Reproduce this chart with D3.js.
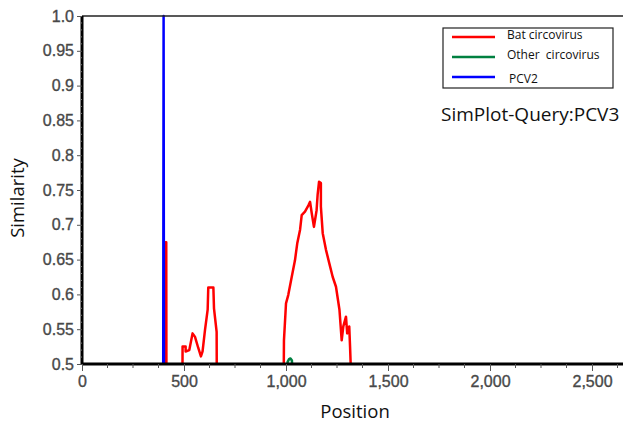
<!DOCTYPE html>
<html>
<head>
<meta charset="utf-8">
<script src="https://cdn.jsdelivr.net/npm/d3@7"></script>
<style>
    body { margin: 0; background: #fff; }
</style>
</head>
<body>
<div class="viz"></div>
<script>
const w = 623;
const h = 427;

// [position, similarity]; values under 0.5 fall below the frame
const batCircovirus = [
    [380, 0.45], [409, 0.45], [410, 0.675], [413, 0.675], [414, 0.45],
    [492, 0.45], [493, 0.525], [508, 0.525], [508, 0.518], [526, 0.520],
    [542, 0.544], [554, 0.539], [570, 0.523], [583, 0.511], [591, 0.518],
    [603, 0.549], [616, 0.578], [619, 0.610], [644, 0.610], [647, 0.580],
    [660, 0.546], [661, 0.45],
    [988, 0.45], [990, 0.534], [1000, 0.587], [1011, 0.599], [1028, 0.625],
    [1044, 0.649], [1055, 0.673], [1069, 0.693], [1077, 0.714], [1093, 0.719],
    [1110, 0.728], [1118, 0.733], [1126, 0.717], [1137, 0.697], [1150, 0.721],
    [1155, 0.743], [1162, 0.762], [1171, 0.760], [1171, 0.726], [1180, 0.688],
    [1196, 0.664], [1212, 0.645], [1229, 0.625], [1245, 0.611], [1262, 0.578],
    [1273, 0.534], [1281, 0.554], [1294, 0.568], [1300, 0.544], [1310, 0.554],
    [1314, 0.525], [1323, 0.45], [1400, 0.45]
];
const otherCircovirus = [
    [1000, 0.46], [1008, 0.503], [1015, 0.507], [1022, 0.508], [1029, 0.505], [1036, 0.46]
];
const pcv2 = [
    [380, 0.45], [398, 0.45], [400, 1.0], [402, 0.45], [420, 0.45]
];

const seriesNames = ["Bat circovirus", "Other  circovirus", "PCV2"];
const seriesColors = ["#ff0000", "#008040", "#0000ff"];
const seriesData = [batCircovirus, otherCircovirus, pcv2];

const xTicks = [0, 500, 1000, 1500, 2000, 2500];
const yTicks = [0.5, 0.55, 0.6, 0.65, 0.7, 0.75, 0.8, 0.85, 0.9, 0.95, 1.0];

const plotLeft = 82, plotTop = 16, plotBottom = 364;

const svg = d3.select(".viz")
    .append("svg")
    .attr("width", w)
    .attr("height", h)
    .style("font-family", "'Liberation Sans', Arial, sans-serif");

const x = d3.scaleLinear().domain([0, 2700]).range([plotLeft, plotLeft + 2700 * 0.204]);
const y = d3.scaleLinear().domain([0.5, 1.0]).range([plotBottom, plotTop]);

svg.append("clipPath").attr("id", "plot")
    .append("rect")
    .attr("x", plotLeft).attr("y", plotTop - 2)
    .attr("width", w - plotLeft).attr("height", plotBottom - plotTop + 2);

const line = d3.line()
    .x(d => x(d[0]))
    .y(d => y(d[1]));

svg.append("g")
    .attr("clip-path", "url(#plot)")
    .selectAll("path")
    .data(seriesData)
    .enter()
    .append("path")
    .attr("d", line)
    .style("fill", "none")
    .style("stroke", (d, i) => seriesColors[i])
    .style("stroke-width", 2.5)
    .style("stroke-linejoin", "round");

// top frame line
svg.append("line")
    .attr("x1", plotLeft).attr("x2", w)
    .attr("y1", plotTop).attr("y2", plotTop)
    .style("stroke", "#222")
    .style("stroke-width", 1.5);

// minor ticks
const xMinor = d3.range(0, 2701, 125).filter(v => v % 500 !== 0);
const yMinor = d3.range(50, 101).map(v => v / 100).filter(v => Math.round(v * 100) % 5 !== 0);

const xAxis = svg.append("g")
    .attr("transform", `translate(0,${plotBottom})`)
    .call(d3.axisBottom(x).tickValues(xTicks).tickSize(7).tickPadding(5)
        .tickFormat(d3.format(",")));
xAxis.append("g").selectAll("line")
    .data(xMinor).enter().append("line")
    .attr("x1", d => x(d)).attr("x2", d => x(d))
    .attr("y1", 0).attr("y2", 4)
    .style("stroke", "#555");

const yAxis = svg.append("g")
    .attr("transform", `translate(${plotLeft},0)`)
    .call(d3.axisLeft(y).tickValues(yTicks).tickSize(5).tickPadding(3)
        .tickFormat(d => d === 1 ? "1.0" : String(d)));
yAxis.append("g").selectAll("line")
    .data(yMinor).enter().append("line")
    .attr("x1", 0).attr("x2", -2)
    .attr("y1", d => y(d)).attr("y2", d => y(d))
    .style("stroke", "#777");

svg.selectAll(".domain")
    .style("stroke", "#000")
    .style("stroke-width", 3);
xAxis.select(".domain").attr("d", `M${plotLeft},0H${w}`);
yAxis.select(".domain").attr("d", `M0,${plotBottom}V${plotTop}`);
svg.selectAll(".tick line").style("stroke", "#555");
svg.selectAll(".tick text")
    .style("font-size", "16px")
    .style("fill", "#484848")
    .style("stroke", "#484848")
    .style("stroke-width", 0.35);

// axis titles
svg.append("text")
    .attr("x", 355).attr("y", 418)
    .attr("text-anchor", "middle")
    .style("font-family", "'Open Sans', sans-serif")
    .style("font-size", "18.5px")
    .style("fill", "#111")
    .text("Position");

svg.append("text")
    .attr("transform", "translate(24,198) rotate(-90)")
    .attr("text-anchor", "middle")
    .style("font-family", "'Open Sans', sans-serif")
    .style("font-size", "18.5px")
    .style("fill", "#111")
    .text("Similarity");

// legend
const legend = svg.append("g");
legend.append("rect")
    .attr("x", 443).attr("y", 28)
    .attr("width", 170).attr("height", 60)
    .style("fill", "#fff")
    .style("stroke", "#222")
    .style("stroke-width", 1.2);
const items = legend.selectAll(".item")
    .data(seriesNames)
    .enter().append("g")
    .attr("transform", (d, i) => `translate(452,${37 + i * 20})`);
items.append("line")
    .attr("x1", 0).attr("x2", 43)
    .style("stroke", (d, i) => seriesColors[i])
    .style("stroke-width", 2.5);
items.append("text")
    .attr("x", (d, i) => i === 2 ? 57 : 55)
    .attr("y", (d, i) => i === 2 ? 2 : -2)
    .attr("dy", "0.35em")
    .style("font-family", "'Open Sans', sans-serif")
    .style("font-size", "12px")
    .style("white-space", "pre")
    .style("fill", "#111")
    .text(d => d);

svg.append("text")
    .attr("x", 441).attr("y", 121)
    .style("font-family", "'Open Sans', sans-serif")
    .style("font-size", "19px")
    .style("fill", "#111")
    .text("SimPlot-Query:PCV3");
</script>
</body>
</html>
